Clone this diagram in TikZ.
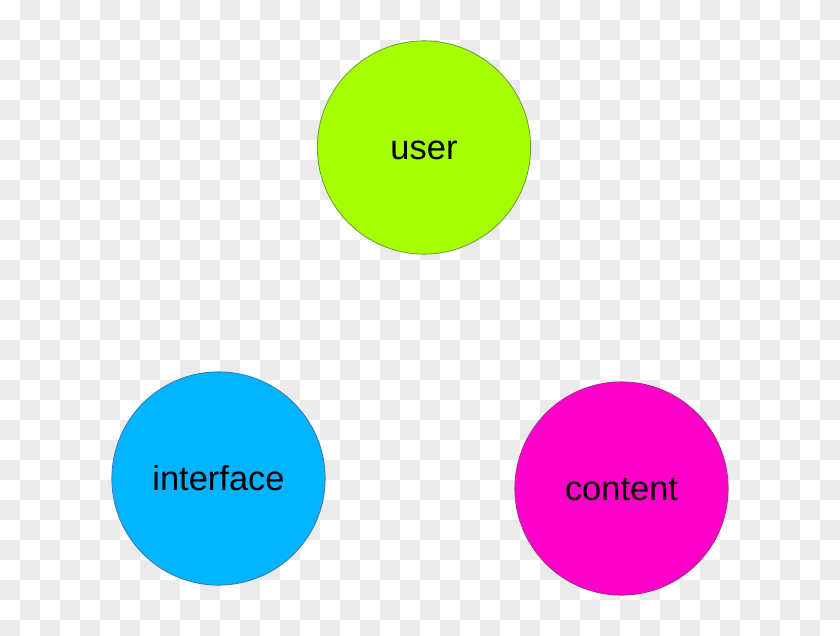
\documentclass[tikz,border=0pt]{standalone}
\usepackage{fontspec}
\setmainfont{Liberation Sans}
\usepackage{tikz}

\definecolor{checkgrey}{HTML}{EBEBEB}
\definecolor{userfill}{HTML}{A6FF00}
\definecolor{userline}{HTML}{6E9E3A}
\definecolor{interfacefill}{HTML}{00B4FF}
\definecolor{interfaceline}{HTML}{3C7AB4}
\definecolor{contentfill}{HTML}{FF00C8}
\definecolor{contentline}{HTML}{A0308C}

\begin{document}
\begin{tikzpicture}[x=0.025cm, y=-0.025cm,
    bubble/.style={circle, draw, line width=0.6pt, inner sep=0pt,
      minimum size=5.33cm, text height=0.6cm, text depth=0pt,
      font=\fontsize{24.5}{28}\selectfont}]

    % Frame and checkered background
    \useasboundingbox (0,0) rectangle (840,636);
    \begin{scope}
      \clip (0,0) rectangle (840,636);
      \fill[white] (0,0) rectangle (840,636);
      \foreach \j in {0,...,31}{
        \pgfmathtruncatemacro{\s}{mod(\j+1,2)}
        \foreach \k in {0,...,20}{
          \fill[checkgrey] ({20*(2*\k+\s)},{20*\j}) rectangle ++(20,20);
        }
      }
    \end{scope}

    % The three circles
    \node[bubble, draw=userline, fill=userfill] (user) at (424,147.5) {user};
    \node[bubble, draw=interfaceline, fill=interfacefill] (interface) at (218.5,478.5) {interface};
    \node[bubble, draw=contentline, fill=contentfill] (content) at (621.5,488.5) {content};

\end{tikzpicture}
\end{document}
